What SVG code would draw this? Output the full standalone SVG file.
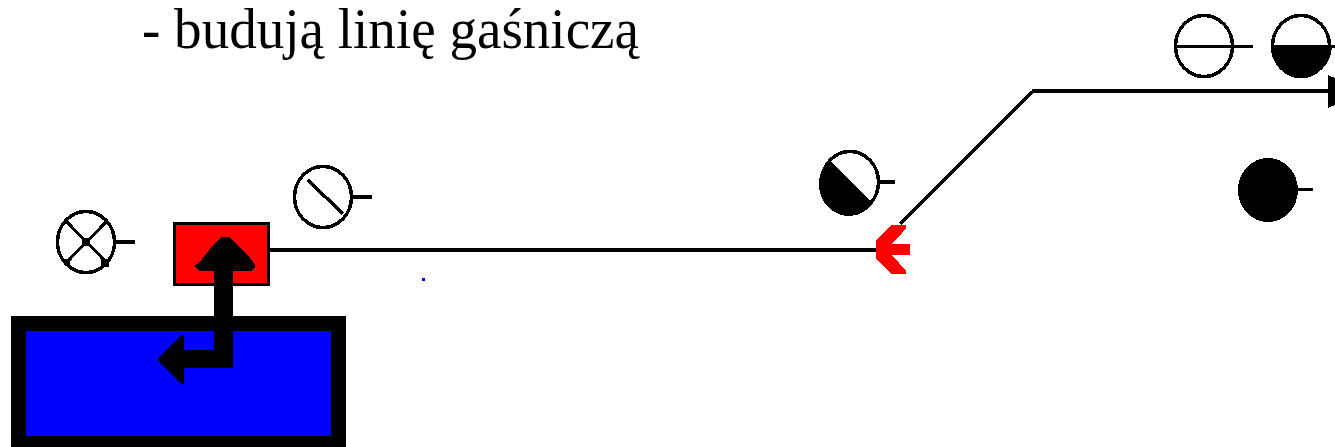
<svg xmlns="http://www.w3.org/2000/svg" width="1335" height="447" viewBox="0 0 1335 447" shape-rendering="crispEdges">
<style>
.ring{fill:#fff;stroke:#000;stroke-width:3.500}
.tick{fill:none;stroke:#000;stroke-width:4}
.thin{fill:none;stroke:#000;stroke-width:3}
.dots{fill:none;stroke:#000;stroke-width:3.500}
.solid{fill:#000;stroke:none}
.label{font-family:"Liberation Serif","Times New Roman",serif;font-size:56px;fill:#000}
</style>
<rect width="1335" height="447" fill="#fff"/>
<text class="label" x="142" y="48" textLength="497" lengthAdjust="spacingAndGlyphs">- budują linię gaśniczą</text>
<g id="tank">
<rect x="11" y="316" width="335" height="131" fill="#000"/>
<rect x="26" y="331" width="305" height="105" fill="#00f"/>
</g>
<g id="pump">
<rect x="174.500" y="223.500" width="94" height="61" fill="#f00" stroke="#000" stroke-width="3"/>
</g>
<g id="connectors">
<path class="tick" d="M270 250H877"/>
<path class="dots" d="M900 224L1032 92"/>
<path class="tick" d="M1032 91H1330"/>
<polygon class="solid" points="1328,75 1335,78 1335,105 1328,108"/>
<polygon class="solid" points="214,271 199,271 195,267 195,265 199,263 213,245 222,237 229,237 237,245 248,255 255,265 255,267 251,271 233,271 233,368 184,368 184,384 181,384 158,361 158,358 181,335 184,335 184,350 214,350"/>
<polygon points="891,225 906,225 906,228 899,237 891,244 910,244 910,255 891,255 899,263 906,271 906,274 891,274 876,258 876,240" fill="#f00"/>
<rect x="422" y="278" width="3" height="3" fill="#00f"/>
</g>
<g id="symbol-cross">
<ellipse class="ring" cx="86" cy="242" rx="28.500" ry="30.500"/>
<path class="thin" d="M67 222L106 262M106 222L67 262"/>
<rect class="solid" x="82" y="238" width="8" height="8"/>
<rect class="solid" x="101" y="259" width="8" height="8"/>
<rect class="solid" x="64" y="259" width="6" height="5"/>
<path class="tick" d="M115 242H135"/>
</g>
<g id="symbol-diagonal">
<ellipse class="ring" cx="323" cy="197" rx="28.500" ry="30.500"/>
<path class="dots" d="M308 180L343 214"/>
<path class="tick" d="M352 197H372"/>
</g>
<g id="symbol-half-diagonal">
<ellipse class="ring" cx="850" cy="182" rx="28.500" ry="30.500"/>
<path class="solid" d="M829 160A30 32 0 1 0 873 203Z"/>
<path class="tick" d="M879 182H895"/>
</g>
<g id="symbol-horizontal">
<ellipse class="ring" cx="1204" cy="46" rx="28.500" ry="30.500"/>
<path class="thin" d="M1175 46H1253"/>
</g>
<g id="symbol-half-horizontal">
<ellipse class="ring" cx="1301" cy="46" rx="28.500" ry="30.500"/>
<path class="solid" d="M1271 45H1332A30 32 0 0 1 1271 45Z"/>
<path class="thin" d="M1331 46H1335"/>
</g>
<g id="symbol-full">
<ellipse class="solid" cx="1268" cy="190" rx="30" ry="32"/>
<path class="thin" d="M1297 189H1313"/>
</g>
</svg>
